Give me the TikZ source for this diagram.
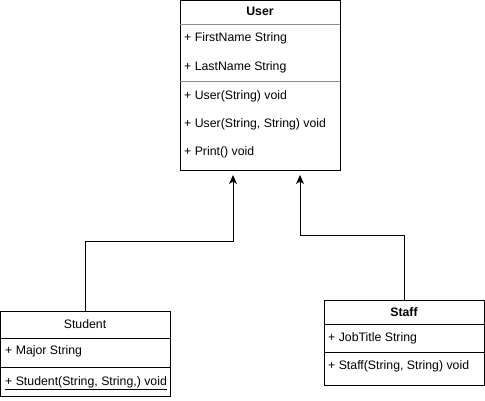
\documentclass[tikz,border=0pt]{standalone}
\usepackage{fontspec}
\setmainfont{Liberation Sans}
\usetikzlibrary{arrows.meta}
\begin{document}
\begin{tikzpicture}[x=1pt,y=-1pt,
  box/.style={draw,line width=1pt,minimum width=#1,inner sep=0pt,anchor=north west},
  member/.style={anchor=west,inner sep=0pt,font=\fontsize{12.3}{14}\selectfont},
  title/.style={inner sep=0pt,font=\fontsize{12.3}{14}\selectfont},
  divider/.style={draw=black!45,line width=0.8pt},
  conn/.style={line width=1pt,-{Stealth[length=9pt,width=8pt,inset=2.5pt]}}]
\useasboundingbox (0,0) rectangle (485,400);
% User
\node[box=160pt,minimum height=170pt] (user) at (180,0) {};
\node[title,font=\fontsize{12.3}{14}\selectfont\bfseries] (usert) at (260,11) {User};
\draw[divider] (180,24) -- (340,24);
\node[member] (u1) at (184,38) {+ FirstName String};
\node[member] (u2) at (184,67) {+ LastName String};
\draw[divider] (180,81) -- (340,81);
\node[member] (u3) at (184,96) {+ User(String) void};
\node[member] (u4) at (184,124) {+ User(String, String) void};
\node[member] (u5) at (184,152) {+ Print() void};
% Student
\node[box=170pt,minimum height=85pt] (student) at (0,311) {};
\node[title] (studentt) at (85,324) {Student};
\draw[line width=1pt] (0,338) -- (170,338);
\node[member] (s1) at (5,351) {+ Major String};
\draw[line width=1pt] (0,367) -- (170,367);
\node[member] (s2) at (5,383) {\underline{+ Student(String, String,) void}};
% Staff
\node[box=160pt,minimum height=85pt] (staff) at (324,300) {};
\node[title,font=\fontsize{12.3}{14}\selectfont\bfseries] (stafft) at (404,312) {Staff};
\draw[line width=1pt] (324,324) -- (484,324);
\node[member] (f1) at (328,338) {+ JobTitle String};
\draw[line width=1pt] (324,352) -- (484,352);
\node[member] (f2) at (328,366) {+ Staff(String, String) void};
% connectors
\coordinate (t1) at (233,175);
\coordinate (t2) at (300,175);
\draw[conn] (student.north) |- (233,241) -- (t1);
\draw[conn] (staff.north) |- (300,235) -- (t2);
\end{tikzpicture}
\end{document}
